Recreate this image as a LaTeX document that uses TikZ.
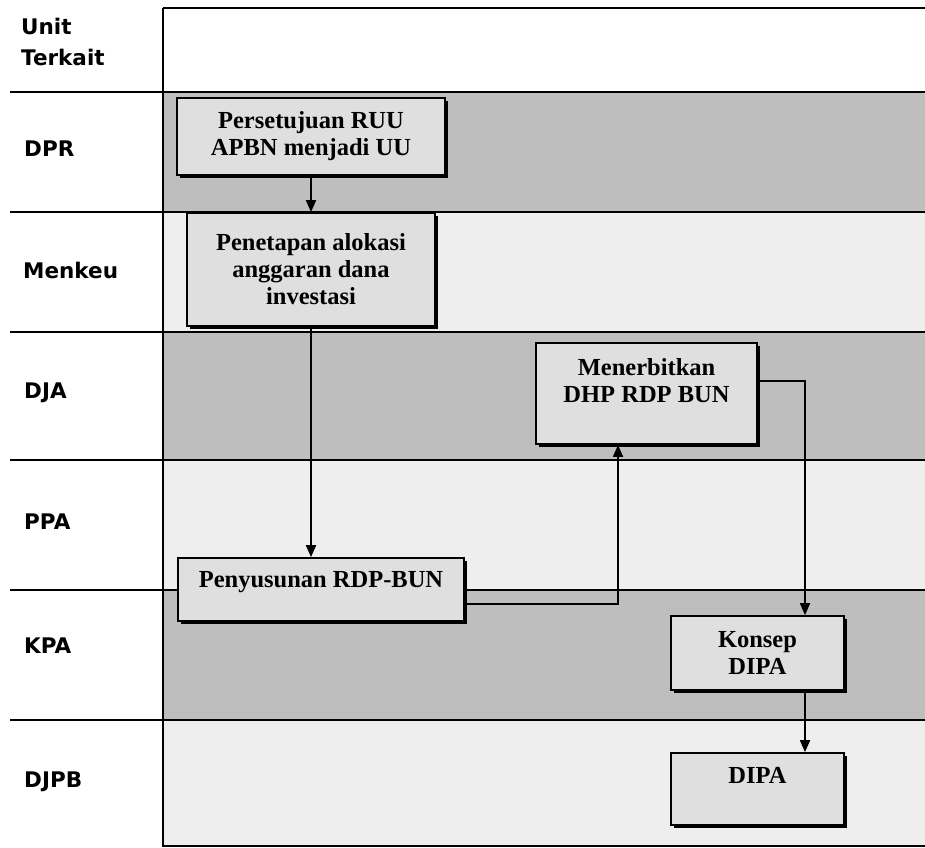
\documentclass[tikz,border=0pt]{standalone}
\usepackage{fontspec}
\setmainfont{Liberation Serif}
\newfontfamily\labfont{DejaVu Sans}
\usetikzlibrary{arrows.meta,shadows}
\definecolor{darklane}{HTML}{BEBEBE}
\definecolor{lightlane}{HTML}{EEEEEE}
\definecolor{boxfill}{HTML}{DFDFDF}
\begin{document}
\begin{tikzpicture}[x=1pt,y=-1pt,
  laneline/.style={line width=1.9pt},
  procbox/.style={draw=black, line width=1.8pt, fill=boxfill, align=center,
    font=\fontsize{24.5}{27}\selectfont\bfseries, inner sep=0pt,
    drop shadow={shadow xshift=2.6pt, shadow yshift=-2.6pt, opacity=1, fill=black}},
  unitlabel/.style={anchor=west, inner sep=0pt, align=left,
    font=\labfont\fontsize{21.5}{31}\selectfont\bfseries},
  flow/.style={line width=1.8pt, -{Triangle[length=12pt,width=10pt]}}
]
\useasboundingbox (0,0) rectangle (925,847);
% lane backgrounds
\fill[darklane]  (163,92)  rectangle (925,212);
\fill[lightlane] (163,212) rectangle (925,332);
\fill[darklane]  (163,332) rectangle (925,460);
\fill[lightlane] (163,460) rectangle (925,590);
\fill[darklane]  (163,590) rectangle (925,720);
\fill[lightlane] (163,720) rectangle (925,847);
% lane lines
\draw[laneline] (163,8) -- (925,8);
\draw[laneline] (163,8) -- (163,847);
\foreach \yy in {92,212,332,460,590,720} {
  \draw[laneline] (10,\yy) -- (925,\yy);
}
\draw[laneline] (163,846) -- (925,846);
% unit labels
\node[unitlabel] (lunit) at (21,42) {Unit\\Terkait};
\node[unitlabel] (ldpr) at (24,149) {DPR};
\node[unitlabel] (lmenkeu) at (23,270) {Menkeu};
\node[unitlabel] (ldja) at (24,393) {DJA};
\node[unitlabel] (lppa) at (24,522) {PPA};
\node[unitlabel] (lkpa) at (24,646) {KPA};
\node[unitlabel] (ldjpb) at (24,782) {DJPB};
% process boxes
\node[procbox, minimum width=268pt, minimum height=77pt] (b1) at (311,136.5)
  {Persetujuan RUU\\APBN menjadi UU};
\node[procbox, minimum width=248pt, minimum height=113pt] (b2) at (311,269.5)
  {Penetapan alokasi\\anggaran dana\\investasi};
\node[procbox, minimum width=221pt, minimum height=101pt] (dja) at (646.5,393.5)
  {Menerbitkan\\DHP RDP BUN\\[0pt]};
\node[procbox, minimum width=286pt, minimum height=63pt] (b3) at (321,589.5)
  {Penyusunan RDP-BUN\\[-6pt]};
\node[procbox, minimum width=173pt, minimum height=74pt] (konsep) at (757.5,653)
  {Konsep\\DIPA};
\node[procbox, minimum width=173pt, minimum height=72pt] (dipa) at (757.5,789)
  {DIPA\\[1pt]};
% connectors
\draw[flow] (b1.south) -- (b2.north);
\draw[flow] (b2.south) -- (b2.south |- b3.north);
\draw[flow] ([yshift=-14.5pt]b3.east) -| ([xshift=-28.5pt]dja.south);
\draw[flow] ([yshift=12.5pt]dja.east) -| ([xshift=47.5pt]konsep.north);
\draw[flow] ([xshift=47.5pt]konsep.south) -- ([xshift=47.5pt]dipa.north);
\end{tikzpicture}
\end{document}
